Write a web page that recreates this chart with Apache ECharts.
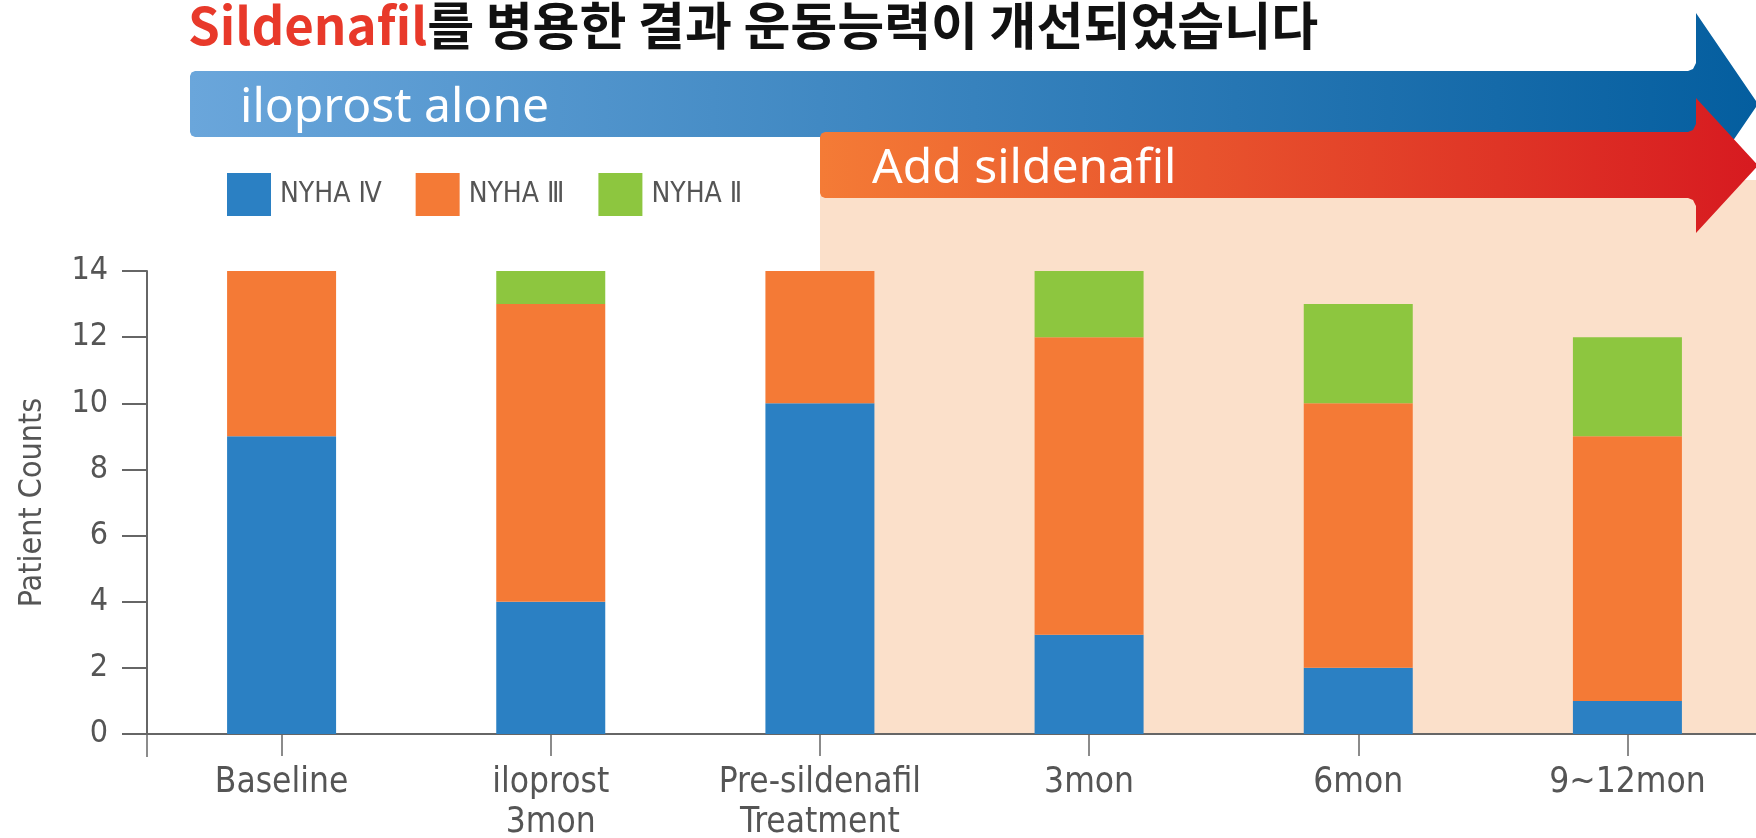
<!DOCTYPE html>
<html>
<head>
<meta charset="utf-8">
<script src="https://cdn.jsdelivr.net/npm/echarts@6/dist/echarts.min.js"></script>
<style>
  html, body { margin: 0; padding: 0; background: #fff; }
  #chart { width: 1756px; height: 838px; }
</style>
</head>
<body>
<div id="chart"></div>
<script>
// data
const categories = ['Baseline', 'iloprost\n3mon', 'Pre-sildenafil\nTreatment', '3mon', '6mon', '9~12mon'];
const nyha4 = [9, 4, 10, 3, 2, 1];
const nyha3 = [5, 9, 4, 9, 8, 8];
const nyha2 = [0, 1, 0, 2, 3, 3];
const seriesNames = ['NYHA Ⅳ', 'NYHA Ⅲ', 'NYHA Ⅱ'];
const seriesColors = ['#2B80C3', '#F47A36', '#8DC63F'];
const yMin = 0, yMax = 14, yStep = 2;
const sildenafilFrom = 2; // category where sildenafil is added

const narrow = '"Liberation Sans Narrow", "DejaVu Sans Condensed", sans-serif';
const grey = '#555';

const chart = echarts.init(document.getElementById('chart'));

function barSeries(name, data, color) {
  return {
    name: name,
    type: 'bar',
    stack: 'nyha',
    barWidth: 109,
    data: data,
    itemStyle: { color: color },
    z: 3
  };
}

chart.setOption({
  animation: false,
  grid: { left: 147, right: -6, top: 271, bottom: 104, outerBoundsMode: 'none' },
  legend: {
    left: 227,
    top: 173,
    padding: 0,
    itemWidth: 44,
    itemHeight: 43,
    itemGap: 34,
    icon: 'rect',
    textStyle: { fontFamily: narrow, fontSize: 28, color: grey, padding: [0, 0, 0, 4] },
    data: seriesNames
  },
  xAxis: {
    type: 'category',
    data: categories,
    axisLine: { lineStyle: { color: '#666', width: 2 } },
    axisTick: { show: true, alignWithLabel: true, length: 22, lineStyle: { color: '#666', width: 1.5 } },
    axisLabel: { interval: 0, fontFamily: narrow, fontSize: 35, lineHeight: 40, color: grey, margin: 29 }
  },
  yAxis: {
    type: 'value',
    min: yMin,
    max: yMax,
    interval: yStep,
    name: 'Patient Counts',
    nameLocation: 'middle',
    nameGap: 98,
    nameTextStyle: { fontFamily: narrow, fontSize: 32, color: grey },
    splitLine: { show: false },
    axisLine: { show: true, lineStyle: { color: '#666', width: 2 } },
    axisTick: { show: true, length: 25, lineStyle: { color: '#666', width: 2 } },
    axisLabel: { fontFamily: narrow, fontSize: 32, color: grey, margin: 39 }
  },
  series: [
    barSeries(seriesNames[0], nyha4, seriesColors[0]),
    barSeries(seriesNames[1], nyha3, seriesColors[1]),
    barSeries(seriesNames[2], nyha2, seriesColors[2])
  ]
});

// decorations: header, phase arrows, shaded sildenafil period
const W = 1756;
const x0 = Math.round(chart.convertToPixel({ xAxisIndex: 0 }, sildenafilFrom));
const yBase = chart.convertToPixel({ yAxisIndex: 0 }, yMin);

function arrowPoints(left, top, bottom, headTop, headBottom, neck, tipX) {
  const tipY = (headTop + headBottom) / 2;
  return [
    [left, top + 5], [left + 1.5, top + 1.5], [left + 5, top],
    [neck - 8, top], [neck - 3, top - 2], [neck, top - 8],
    [neck, headTop], [tipX, tipY], [neck, headBottom],
    [neck, bottom + 8], [neck - 3, bottom + 2], [neck - 8, bottom],
    [left + 5, bottom], [left + 1.5, bottom - 1.5], [left, bottom - 5]
  ];
}

chart.setOption({
  graphic: [
    {
      type: 'rect',
      z: -1,
      shape: { x: x0, y: 180, width: W - x0, height: yBase - 180 },
      style: { fill: '#FBE0CA' }
    },
    {
      type: 'polygon',
      z: 10,
      shape: { points: arrowPoints(190, 71, 137, 13, 195, 1696, 1758) },
      style: {
        fill: new echarts.graphic.LinearGradient(0, 0, 1, 0, [
          { offset: 0, color: '#6AA6DB' },
          { offset: 1, color: '#045E9F' }
        ])
      }
    },
    {
      type: 'text',
      z: 11,
      left: 240,
      top: 84,
      style: { text: 'iloprost alone', fill: '#fff', font: '48px "Noto Sans", sans-serif' }
    },
    {
      type: 'polygon',
      z: 12,
      shape: { points: arrowPoints(x0, 132, 198, 98, 233, 1696, 1758) },
      style: {
        fill: new echarts.graphic.LinearGradient(0, 0, 1, 0, [
          { offset: 0, color: '#F47B36' },
          { offset: 1, color: '#D71A20' }
        ])
      }
    },
    {
      type: 'text',
      z: 13,
      left: x0 + 52,
      top: 145,
      style: { text: 'Add sildenafil', fill: '#fff', font: '48px "Noto Sans", sans-serif' }
    },
    {
      type: 'text',
      z: 13,
      left: 188,
      top: 0,
      style: {
        text: '{r|Sildenafil}{k|를 병용한 결과 운동능력이 개선되었습니다}',
        rich: {
          r: { fill: '#E8392A', font: 'bold 51px "Noto Sans CJK KR", sans-serif' },
          k: { fill: '#111', font: 'bold 51px "Noto Sans CJK KR", sans-serif' }
        }
      }
    },
    {
      // left end of the baseline carries a downward tick as well
      type: 'line',
      z: 5,
      shape: { x1: 147, y1: yBase, x2: 147, y2: yBase + 23 },
      style: { stroke: '#666', lineWidth: 1.5 }
    }
  ]
});
</script>
</body>
</html>
